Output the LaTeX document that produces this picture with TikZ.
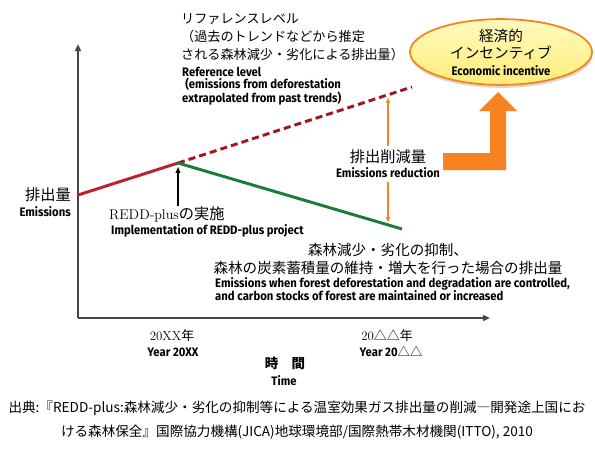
\documentclass[tikz,border=0pt]{standalone}
\usepackage{fontspec}
\usepackage{xcolor}
\usepackage{tikz}
\usetikzlibrary{arrows.meta,positioning,shapes.geometric,shadows}
\newfontfamily\jpfont{Noto Sans CJK JP}
\newfontfamily\enfont[FakeStretch=0.92]{Fira Sans}
\definecolor{emitred}{RGB}{192,30,45}
\definecolor{refred}{RGB}{160,22,35}
\definecolor{cutgreen}{RGB}{25,125,55}
\definecolor{incorange}{RGB}{245,132,32}
\definecolor{axisgray}{RGB}{70,70,70}
\definecolor{elltop}{RGB}{255,250,190}
\definecolor{ellbot}{RGB}{255,236,120}
\tikzset{
  jptext/.style={font=\jpfont\fontsize{12.4}{15}\selectfont,inner sep=0pt},
  jpsmall/.style={font=\jpfont\fontsize{11.2}{15.3}\selectfont,inner sep=0pt},
  entext/.style={font=\enfont\bfseries\fontsize{10.5}{10.4}\selectfont,inner sep=0pt},
  sertext/.style={font=\fontsize{11}{13}\selectfont,inner sep=0pt},
  axisline/.style={draw=axisgray,line width=1.6pt,-{Triangle[length=6pt,width=5pt]}},
  emitline/.style={emitred,line width=2.5pt},
  refline/.style={refred,line width=2.5pt,dash pattern=on 6pt off 3.5pt},
  reddline/.style={cutgreen,line width=2.5pt}
}

\begin{document}
\begin{tikzpicture}[x=0.03cm,y=-0.03cm,>=Latex]
  \useasboundingbox[fill=white] (0,0) rectangle (595,448);
  % axes
  \coordinate (o) at (78,318);
  \coordinate (ytop) at (78,44);
  \coordinate (xend) at (490,318);
  \draw[axisline] (o) -- (ytop);
  \draw[axisline] (o) -- (xend);
  % emission lines
  \coordinate (e0) at (78,195);
  \coordinate (impl) at (178,163);
  \coordinate (refend) at (412,87);
  \coordinate (reddend) at (402,229);
  \draw[emitline] (e0) -- (impl);
  \draw[refline] (impl) -- (refend);
  \draw[reddline] (impl) -- (reddend);
  % reference level
  \node[jpsmall,anchor=north west,align=left] (refjp) at (181,13)
    {リファレンスレベル\\（過去のトレンドなどから推定\\される森林減少・劣化による排出量）};
  \node[entext,anchor=north west,align=left] (refen) at (182,67)
    {Reference level\\\hspace{0.25em}(emissions from deforestation\\extrapolated from past trends)};
  % y axis label
  \node[jptext,font=\jpfont\fontsize{13}{15}\selectfont,anchor=east] (emjp) at (71,195) {排出量};
  \node[entext,anchor=east] (emen) at (71,212) {Emissions};
  % implementation
  \node[sertext,font=\fontsize{12}{15}\selectfont,anchor=west] (redd) at (109,214)
    {REDD-plus{\jpfont\fontsize{13}{15}\selectfont の実施}};
  \node[entext,anchor=west] (redden) at (111,231) {Implementation of REDD-plus project};
  \coordinate (impltip) at (178,167);
  \draw[line width=1pt,-{Triangle[length=5pt,width=4pt]}] (redd.north -| impltip) -- (impltip);
  % emissions reduction
  \coordinate (cuttop) at (388,97);
  \coordinate (cutbot) at (388,223);
  \node[jptext,font=\jpfont\fontsize{13}{15}\selectfont] (cutjp) at (388,157) {排出削減量};
  \node[entext,below=3pt of cutjp] (cuten) {Emissions reduction};
  \draw[incorange,line width=1pt,-{Latex[length=5pt,width=4pt]}] (cutjp.north) ++(0,-4) -- (cuttop);
  \draw[incorange,line width=1pt,-{Latex[length=5pt,width=4pt]}] (cuten.south) ++(0,4) -- (cutbot);
  % controlled emissions
  \node[jptext,align=center] (ctrljp) at (388,259)
    {森林減少・劣化の抑制、\\森林の炭素蓄積量の維持・増大を行った場合の排出量};
  \node[entext,font=\enfont\bfseries\fontsize{10.5}{11.2}\selectfont,anchor=north west,align=left] (ctrlen) at (215,277)
    {Emissions when forest deforestation and degradation are controlled,\\and carbon stocks of forest are maintained or increased};
  % time axis labels
  \node[sertext] (y1) at (172,336) {20XX{\jpfont 年}};
  \node[entext] (y1en) at (173,352) {Year 20XX};
  \node[sertext] (y2) at (387,336) {20{\jpfont △△年}};
  \node[entext] (y2en) at (391,352) {Year 20{\jpfont\mdseries △△}};
  \node[jptext,font=\jpfont\bfseries\fontsize{11.5}{13}\selectfont] (tjp) at (285,363) {時\hspace{1em}間};
  \node[entext] (ten) at (284,381) {Time};
  % economic incentive
  \node[ellipse,draw=incorange,line width=1.5pt,top color=elltop,bottom color=ellbot,
        minimum width=5.46cm,minimum height=1.74cm,inner sep=0pt,align=center,
        drop shadow={shadow xshift=0.5pt,shadow yshift=-2.5pt,opacity=0.3},
        font=\jpfont\fontsize{12.5}{14.5}\selectfont] (incent) at (501,52)
    {経済的\\インセンティブ\\{\enfont\bfseries\fontsize{10.5}{11}\selectfont Economic incentive}};
  \fill[incorange] (443,153) -- (490,153) -- (490,111) -- (479,111) -- (498,92)
    -- (517,111) -- (506,111) -- (506,170) -- (443,170) -- cycle;
  % source
  \node[font=\jpfont\fontsize{11.6}{20}\selectfont,align=center,inner sep=0pt] (src) at (297,420)
    {出典:『REDD-plus:森林減少・劣化の抑制等による温室効果ガス排出量の削減―開発途上国にお\\ける森林保全』国際協力機構(JICA)地球環境部/国際熱帯木材機関(ITTO), 2010};
\end{tikzpicture}
\end{document}
